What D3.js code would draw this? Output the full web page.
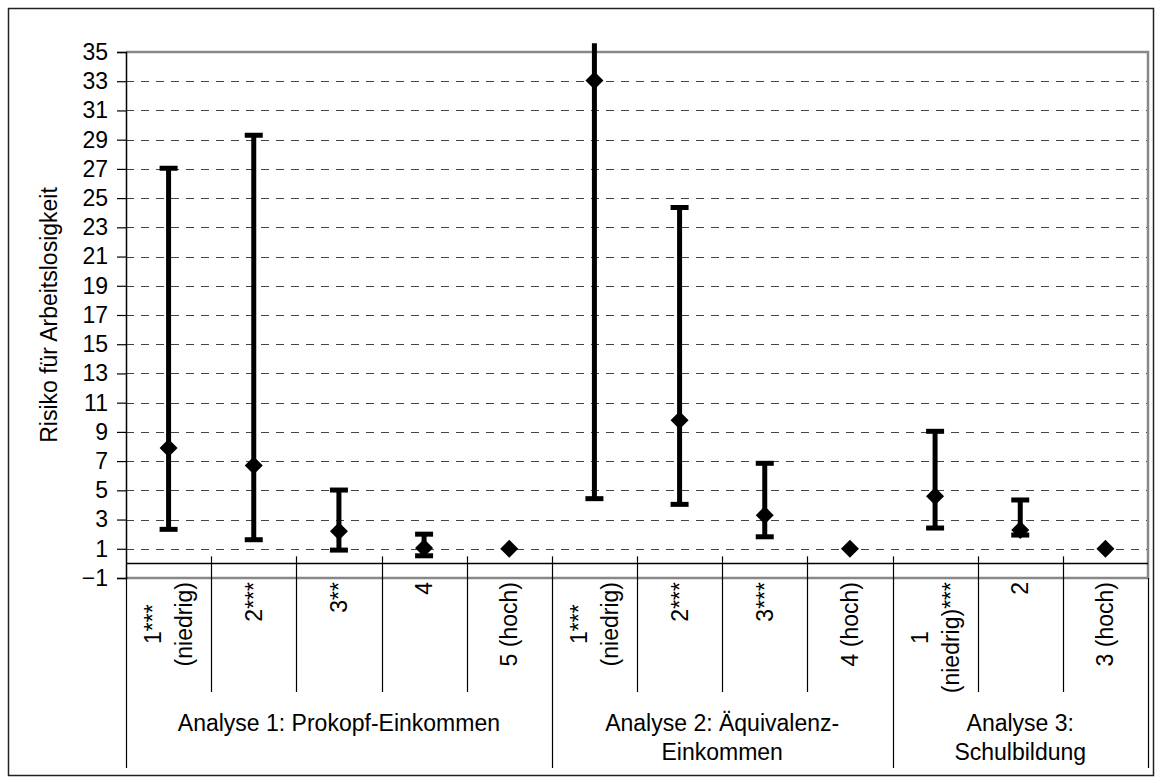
<!DOCTYPE html>
<html>
<head>
<meta charset="utf-8">
<script src="https://cdn.jsdelivr.net/npm/d3@7"></script>
<style>
	body { margin: 0; background: #fff; }
	text { font-family: "Liberation Sans", Arial, sans-serif; fill: #000; }
</style>
</head>
<body>
<div id="chart"></div>
<script>
// categories (each label split into its lines) and the group each belongs to
const categories = [
	["1***", "(niedrig)"], ["2***"], ["3**"], ["4"], ["5 (hoch)"],
	["1***", "(niedrig)"], ["2***"], ["3***"], ["4 (hoch)"],
	["1", "(niedrig)***"], ["2"], ["3 (hoch)"]
];
const groupOf = [0, 0, 0, 0, 0, 1, 1, 1, 1, 2, 2, 2];
const groupNames = [
	["Analyse 1: Prokopf-Einkommen"],
	["Analyse 2: Äquivalenz-", "Einkommen"],
	["Analyse 3:", "Schulbildung"]
];
// risk estimate and confidence interval (null = reference group)
const estimates = [7.9, 6.7, 2.2, 1.05, 1, 33.05, 9.8, 3.3, 1, 4.6, 2.28, 1];
const lower = [2.33, 1.62, 0.91, 0.52, null, 4.43, 4.04, 1.82, null, 2.42, 1.94, null];
const upper = [27.05, 29.3, 5.02, 2.0, null, 60, 24.35, 6.85, null, 9.04, 4.34, null];
const yTicks = d3.range(-1, 36, 2);

const width = 1161, height = 783;
const plotLeft = 126, plotRight = 1148, plotTop = 52, plotBottom = 578;
const fontSize = "23px";

let svg = d3.select("#chart").append("svg")
	.attr("width", width)
	.attr("height", height);

// outer frame
svg.append("rect")
	.attr("x", 8.5).attr("y", 8.5)
	.attr("width", 1145).attr("height", 767)
	.attr("fill", "none")
	.attr("stroke", "#222")
	.attr("stroke-width", 1.5);

let y = d3.scaleLinear().domain([-1, 35]).range([plotBottom, plotTop]);
let x = d3.scaleBand().domain(d3.range(categories.length)).range([plotLeft, plotRight]).padding(0);

// dashed gridlines
svg.append("g").selectAll("line")
	.data(yTicks.filter(d => d > -1 && d < 35))
	.join("line")
	.attr("x1", plotLeft).attr("x2", plotRight)
	.attr("y1", d => Math.round(y(d)) + 0.5)
	.attr("y2", d => Math.round(y(d)) + 0.5)
	.attr("stroke", "#444")
	.attr("stroke-dasharray", "8,7");

// plot area border (top, right, bottom) in grey
svg.append("path")
	.attr("d", `M${plotLeft},${y(35)}H${plotRight}V${y(-1)}H${plotLeft}`)
	.attr("fill", "none")
	.attr("stroke", "#888")
	.attr("stroke-width", 2.5);

// y axis
let yAxis = d3.axisLeft(y).tickValues(yTicks).tickSize(9).tickPadding(9);
let gy = svg.append("g")
	.attr("transform", `translate(${plotLeft},0)`)
	.call(yAxis);
gy.select(".domain").attr("stroke", "#000").attr("stroke-width", 1.5);
gy.selectAll(".tick line").attr("stroke", "#000").attr("stroke-width", 1.2);
gy.selectAll(".tick text")
	.style("font-size", fontSize)
	.attr("font-family", "Liberation Sans, Arial, sans-serif");

// horizontal axis at 0
svg.append("line")
	.attr("x1", plotLeft).attr("x2", plotRight)
	.attr("y1", y(0)).attr("y2", y(0))
	.attr("stroke", "#000")
	.attr("stroke-width", 1.5);

// category separators and group separators
let boundaries = d3.range(categories.length + 1);
svg.append("g").selectAll("line")
	.data(boundaries)
	.join("line")
	.attr("x1", d => Math.round(plotLeft + d * x.bandwidth()) + 0.5)
	.attr("x2", d => Math.round(plotLeft + d * x.bandwidth()) + 0.5)
	.attr("y1", d => (d == 0 || d == categories.length) ? y(-1) : y(0) - 7)
	.attr("y2", d => {
		if (d == 0 || d == categories.length || groupOf[d] != groupOf[d - 1]) return 768;
		return 692;
	})
	.attr("stroke", "#000")
	.attr("stroke-width", 1.2);

// category labels, rotated
let catG = svg.append("g").selectAll("g")
	.data(categories)
	.join("g")
	.attr("transform", (d, i) => `translate(${x(i) + x.bandwidth() / 2},582) rotate(-90)`);
catG.each(function (lines) {
	let g = d3.select(this);
	let texts = g.selectAll("text")
		.data(lines)
		.join("text")
		.text(d => d)
		.style("font-size", fontSize)
		.attr("text-anchor", "middle")
		.attr("dy", "0.35em")
		.attr("y", (d, i) => (i - (lines.length - 1) / 2) * 31);
	let maxLen = d3.max(texts.nodes(), n => n.getComputedTextLength());
	texts.attr("x", -maxLen / 2);
});

// group labels
let groupStart = 0;
groupNames.forEach((lines, gi) => {
	let n = groupOf.filter(g => g == gi).length;
	let cx = plotLeft + (groupStart + n / 2) * x.bandwidth();
	svg.append("g").selectAll("text")
		.data(lines)
		.join("text")
		.text(d => d)
		.attr("x", cx)
		.attr("y", (d, i) => 731 + i * 29)
		.attr("text-anchor", "middle")
		.style("font-size", fontSize);
	groupStart += n;
});

// axis title
svg.append("text")
	.text("Risiko für Arbeitslosigkeit")
	.attr("transform", "translate(57,315) rotate(-90)")
	.attr("text-anchor", "middle")
	.style("font-size", fontSize);

// error bars, clipped a little above the plot area
svg.append("clipPath").attr("id", "clip")
	.append("rect")
	.attr("x", 0).attr("y", y(35.6))
	.attr("width", width).attr("height", height);

let bars = d3.range(categories.length).filter(i => lower[i] != null);
let eb = svg.append("g").attr("clip-path", "url(#clip)");
eb.selectAll("line.stem")
	.data(bars)
	.join("line")
	.attr("class", "stem")
	.attr("x1", i => x(i) + x.bandwidth() / 2)
	.attr("x2", i => x(i) + x.bandwidth() / 2)
	.attr("y1", i => y(lower[i]))
	.attr("y2", i => y(upper[i]))
	.attr("stroke", "#000")
	.attr("stroke-width", 5);
eb.selectAll("line.cap")
	.data(bars.flatMap(i => [[i, lower[i]], [i, upper[i]]]))
	.join("line")
	.attr("class", "cap")
	.attr("x1", d => x(d[0]) + x.bandwidth() / 2 - 9)
	.attr("x2", d => x(d[0]) + x.bandwidth() / 2 + 9)
	.attr("y1", d => y(d[1]))
	.attr("y2", d => y(d[1]))
	.attr("stroke", "#000")
	.attr("stroke-width", 5);

// diamond markers
svg.append("g").selectAll("path")
	.data(estimates)
	.join("path")
	.attr("d", "M0,-9L9,0L0,9L-9,0Z")
	.attr("transform", (d, i) => `translate(${x(i) + x.bandwidth() / 2},${y(d)})`)
	.attr("fill", "#000");
</script>
</body>
</html>
